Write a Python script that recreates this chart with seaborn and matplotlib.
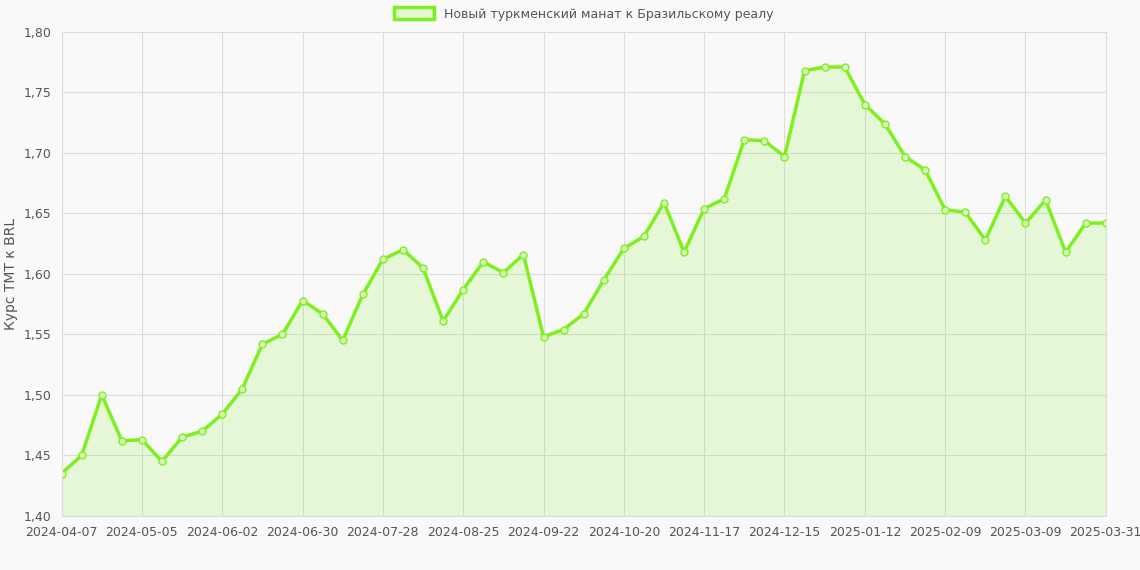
import matplotlib
matplotlib.use("Agg")
import matplotlib.pyplot as plt
from matplotlib.patches import Patch
import seaborn as sns
import numpy as np
import pandas as pd

tick_labels = ["2024-04-07", "2024-05-05", "2024-06-02", "2024-06-30", "2024-07-28",
               "2024-08-25", "2024-09-22", "2024-10-20", "2024-11-17", "2024-12-15",
               "2025-01-12", "2025-02-09", "2025-03-09", "2025-03-31"]
rates = [1.435, 1.450, 1.500, 1.462, 1.463, 1.445, 1.465, 1.470, 1.484, 1.505,
         1.542, 1.550, 1.578, 1.567, 1.545, 1.583, 1.612, 1.620, 1.605, 1.561,
         1.587, 1.610, 1.601, 1.616, 1.548, 1.554, 1.567, 1.595, 1.621, 1.631,
         1.659, 1.618, 1.654, 1.662, 1.711, 1.710, 1.697, 1.768, 1.771, 1.771,
         1.740, 1.724, 1.697, 1.686, 1.653, 1.651, 1.628, 1.664, 1.642, 1.661,
         1.618, 1.642, 1.642]

df = pd.DataFrame({"idx": np.arange(len(rates)), "rate": rates})
tick_pos = list(range(0, 52, 4)) + [52]

sns.set_style("whitegrid")
plt.rcParams["font.family"] = ["DejaVu Sans"]
fig, ax = plt.subplots(figsize=(11.4, 5.7), dpi=100)
fig.patch.set_facecolor("#f9f9f9")
ax.set_facecolor("#f9f9f9")

green = "#7ef01e"
label = "Новый туркменский манат к Бразильскому реалу"
ax.fill_between(df["idx"], df["rate"], 1.40, color=green, alpha=0.15, linewidth=0)
sns.lineplot(data=df, x="idx", y="rate", ax=ax, color=green, linewidth=2.5,
             marker="o", markersize=5, markerfacecolor="#d8f7bd",
             markeredgecolor=green, markeredgewidth=1, legend=False)

ax.set_xlim(0, 52)
ax.set_ylim(1.40, 1.80)
ax.set_xticks(tick_pos)
ax.set_xticklabels(tick_labels, fontsize=9, color="#555555")
yt = np.arange(1.40, 1.801, 0.05)
ax.set_yticks(yt)
ax.set_yticklabels([f"{v:.2f}".replace(".", ",") for v in yt], fontsize=9, color="#555555")
ax.set_xlabel("")
ax.set_ylabel("Курс TMT к BRL", fontsize=10, color="#555555")
ax.grid(True, color="#dddddd", linewidth=0.8)
for s in ax.spines.values():
    s.set_color("#dddddd")

handle = Patch(facecolor="#e4f9d0", edgecolor=green, linewidth=2.5, label=label)
leg = ax.legend(handles=[handle], loc="lower center", bbox_to_anchor=(0.5, 1.0),
                frameon=False, fontsize=9, handlelength=3.2, handleheight=1.1)
for t in leg.get_texts():
    t.set_color("#555555")

fig.subplots_adjust(left=0.054, right=0.97, top=0.944, bottom=0.095)
fig.savefig("out.png", dpi=100, facecolor=fig.get_facecolor())
